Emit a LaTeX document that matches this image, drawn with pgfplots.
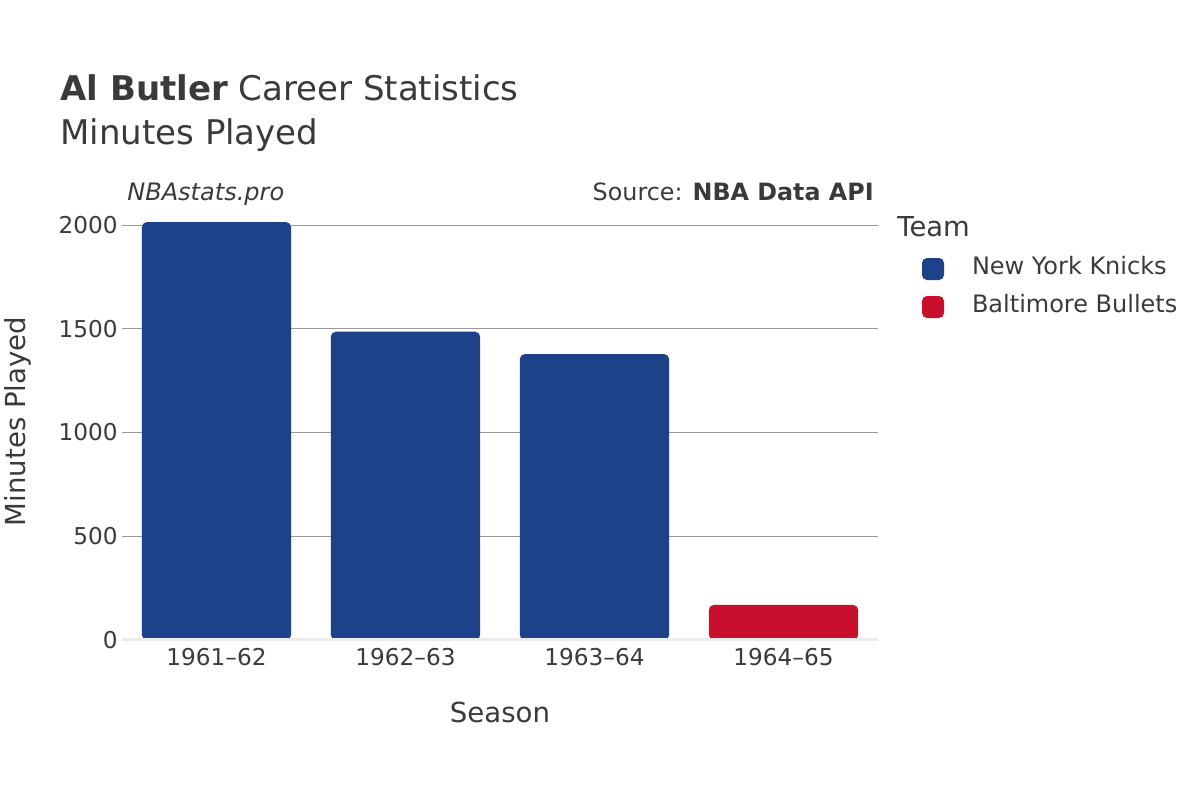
\documentclass[border=0pt]{standalone}
\usepackage{pgfplots}
\pgfplotsset{compat=1.18}
\usepackage{fontspec}
\setmainfont{DejaVu Sans}
\definecolor{knicks}{HTML}{1D428A}
\definecolor{bullets}{HTML}{C8102E}
\definecolor{txt}{HTML}{3A3A3A}
\definecolor{gridc}{HTML}{9A9A9A}
\definecolor{zeroc}{HTML}{EBEBEB}

\begin{document}
\begin{tikzpicture}[x=1pt,y=1pt]
\useasboundingbox (0,0) rectangle (600,400);
% titles
\node[anchor=base west, text=txt, inner sep=0, font=\fontsize{17}{20}\selectfont] at (30,349.5) {\textbf{Al Butler} Career Statistics};
\node[anchor=base west, text=txt, inner sep=0, font=\fontsize{17}{20}\selectfont] at (30,327.5) {Minutes Played};
\node[anchor=base west, text=txt, inner sep=0, font=\fontsize{12}{14}\itshape] at (63.5,300) {NBAstats.pro};
\node[anchor=base east, text=txt, inner sep=0, font=\fontsize{11.9}{14}\selectfont] at (437,300) {Source: \textbf{NBA Data API}};
\node[anchor=base west, text=txt, inner sep=0, font=\fontsize{13.7}{16}\selectfont] at (448.5,282) {Team};

\begin{axis}[
  at={(61pt,80pt)}, anchor=south west,
  scale only axis, width=378pt, height=216.5pt,
  xmin=-0.5, xmax=3.5, ymin=0, ymax=2087,
  ybar, bar width=0.79, bar shift=0pt,
  axis line style={draw=none},
  major tick length=0pt,
  xtick={0,1,2,3},
  xticklabels={1961–62,1962–63,1963–64,1964–65},
  ytick={0,500,1000,1500,2000},
  ymajorgrids, grid style={gridc, line width=0.5pt},
  tick label style={font=\fontsize{11.6}{14}\selectfont, text=txt},
  /pgf/number format/assume math mode=true,
  scaled y ticks=false,
  yticklabel style={/pgf/number format/1000 sep={}, inner sep=2pt},
  xticklabel style={inner sep=4pt},
  xlabel={Season},
  ylabel={Minutes Played},
  label style={font=\fontsize{13.8}{16}\selectfont, text=txt},
  xlabel style={at={(axis description cs:0.5,0)}, anchor=center, yshift=-36pt},
  ylabel style={at={(axis description cs:-0.1376,0.505)}, anchor=center},
  legend image code/.code={\draw[#1, draw=none, rounded corners=2.5pt] (0pt,-5.5pt) rectangle (11pt,5.5pt);},
  legend cell align=left,
  legend style={at={(axis description cs:1,1)}, anchor=north west, xshift=22pt, yshift=-25.5pt,
    draw=none, fill=none, inner sep=0pt, outer sep=0pt, row sep=8pt, column sep=14pt,
    font=\fontsize{12}{14}\selectfont, text=txt,
    nodes={inner sep=0pt, text height=8pt, text depth=3pt}},
]
\addplot[fill=knicks, draw=none, rounded corners=2.5pt] coordinates {(0,2014) (1,1486) (2,1378)};
\addlegendentry{New York Knicks}
\addplot[fill=bullets, draw=none, rounded corners=2.5pt] coordinates {(3,169)};
\addlegendentry{Baltimore Bullets}
\draw[zeroc, line width=1.6pt] (axis cs:-0.5,0) -- (axis cs:3.5,0);
\end{axis}
\end{tikzpicture}
\end{document}
